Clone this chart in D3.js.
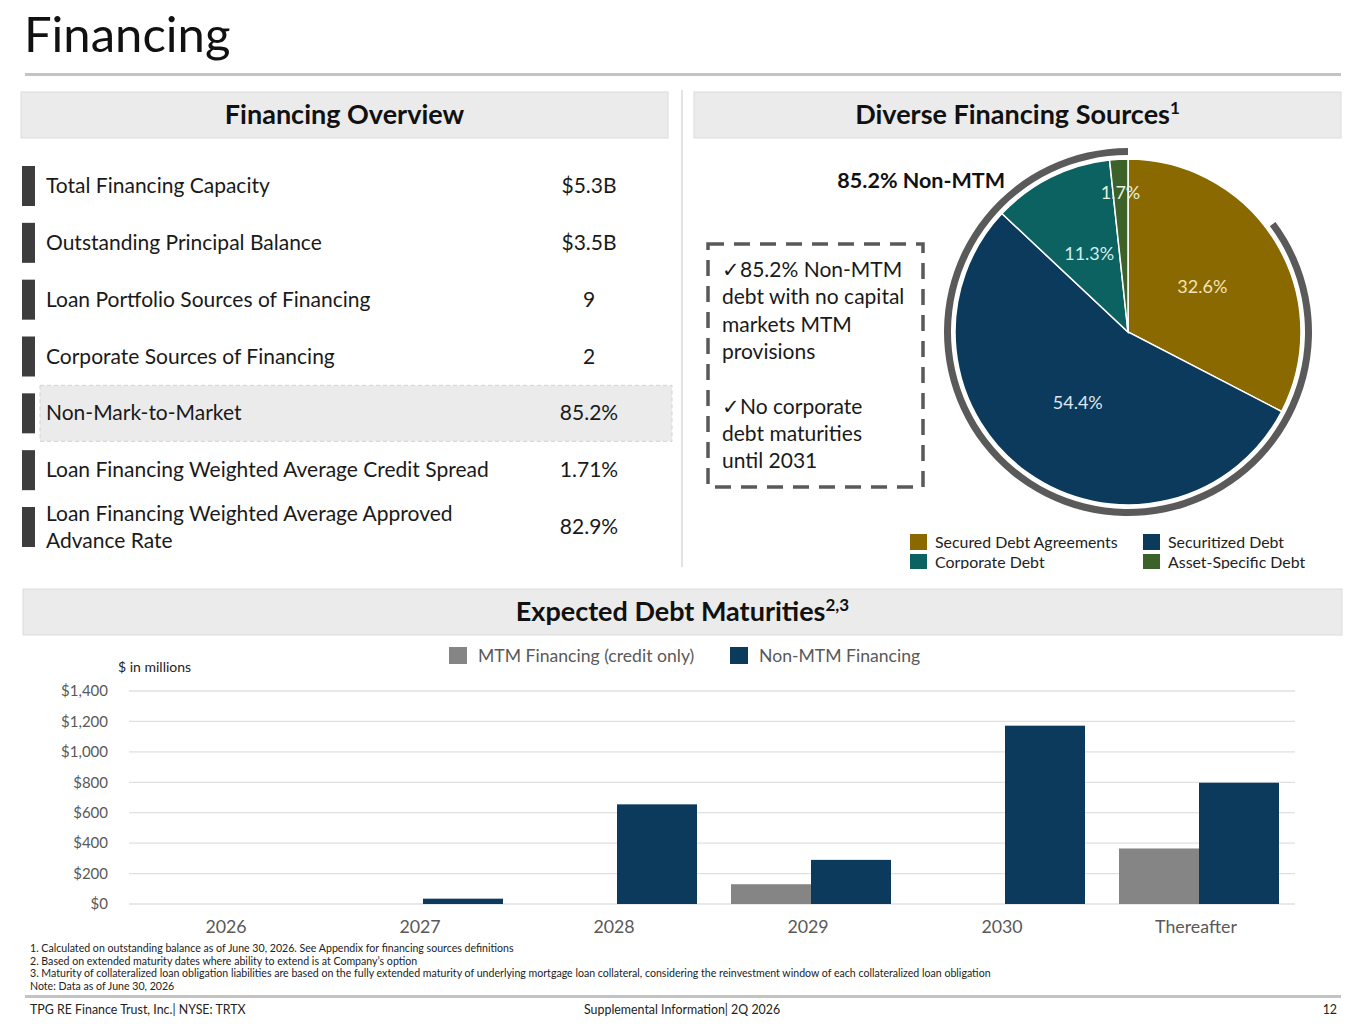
<!DOCTYPE html>
<html>
<head>
<meta charset="utf-8">
<script src="https://cdn.jsdelivr.net/npm/d3@7"></script>
<style>
  body { margin: 0; background: #fff; }
  svg { font-family: Lato, "Open Sans", sans-serif; display: block; }
</style>
</head>
<body>
<svg id="page" width="1365" height="1024"></svg>
<script>
// overview table
const overviewLabels = [
  ["Total Financing Capacity"],
  ["Outstanding Principal Balance"],
  ["Loan Portfolio Sources of Financing"],
  ["Corporate Sources of Financing"],
  ["Non-Mark-to-Market"],
  ["Loan Financing Weighted Average Credit Spread"],
  ["Loan Financing Weighted Average Approved", "Advance Rate"]
];
const overviewValues = ["$5.3B", "$3.5B", "9", "2", "85.2%", "1.71%", "82.9%"];
const highlightRow = 4;

// pie
const sourceNames = ["Secured Debt Agreements", "Securitized Debt", "Corporate Debt", "Asset-Specific Debt"];
const sourceShares = [32.6, 54.4, 11.3, 1.7];
const sourceColors = ["#8a6a00", "#0c3a5c", "#0b6260", "#3c6129"];
const labelColors = ["#f3e3b3", "#dbe6f0", "#cfeeed", "#e6f0dc"];
const nonMtmShare = 85.2;

const calloutLines = ["\u2713" + "85.2% Non-MTM", "debt with no capital", "markets MTM", "provisions", "", "\u2713" + "No corporate", "debt maturities", "until 2031"];

// bars
const years = ["2026", "2027", "2028", "2029", "2030", "Thereafter"];
const mtmFinancing = [0, 0, 0, 130, 0, 365];
const nonMtmFinancing = [0, 35, 655, 290, 1172, 797];
const seriesNames = ["MTM Financing (credit only)", "Non-MTM Financing"];
const seriesColors = ["#858585", "#0c3a5c"];
const yTicks = [0, 200, 400, 600, 800, 1000, 1200, 1400];

const footnotes = [
  "1. Calculated on outstanding balance as of June 30, 2026. See Appendix for financing sources definitions",
  "2. Based on extended maturity dates where ability to extend is at Company\u2019s option",
  "3. Maturity of collateralized loan obligation liabilities are based on the fully extended maturity of underlying mortgage loan collateral, considering the reinvestment window of each collateralized loan obligation",
  "Note: Data as of June 30, 2026"
];

const svg = d3.select("#page");

// title and rules
svg.append("text").attr("x", 24).attr("y", 52).attr("font-size", 49).attr("fill", "#111").text("Financing");
svg.append("rect").attr("x", 25).attr("y", 73).attr("width", 1316).attr("height", 3).attr("fill", "#c3c3c3");
svg.append("rect").attr("x", 681).attr("y", 90).attr("width", 2).attr("height", 477).attr("fill", "#e3e3e3");

function header(x, w, y, text, sup) {
  svg.append("rect").attr("x", x).attr("y", y).attr("width", w).attr("height", 46)
    .attr("fill", "#ebebeb").attr("stroke", "#dcdcdc");
  const t = svg.append("text").attr("x", x + w / 2).attr("y", y + 32).attr("text-anchor", "middle")
    .attr("font-size", 27).attr("font-weight", "bold").attr("fill", "#111").text(text);
  if (sup) t.append("tspan").attr("dy", -10).attr("font-size", 17).text(sup);
}
header(21, 647, 92, "Financing Overview");
header(694, 647, 92, "Diverse Financing Sources", "1");
header(23, 1319, 589, "Expected Debt Maturities", "2,3");

// overview rows
const rowY = d3.scalePoint().domain(d3.range(overviewLabels.length)).range([186, 527]);
svg.append("rect").attr("x", 40).attr("y", rowY(highlightRow) - 28).attr("width", 632).attr("height", 56)
  .attr("fill", "#ebebeb").attr("stroke", "#d2d2d2").attr("stroke-dasharray", "4,3");
const rows = svg.append("g").selectAll("g").data(overviewLabels).join("g")
  .attr("transform", (d, i) => `translate(0,${rowY(i)})`);
rows.append("rect").attr("x", 22).attr("y", -20).attr("width", 13).attr("height", 40).attr("fill", "#3d3d3d");
rows.append("text").attr("x", 46).attr("font-size", 21).attr("fill", "#1a1a1a")
  .each(function(d) {
    const t = d3.select(this);
    d.forEach((line, j) => {
      t.append("tspan").attr("x", 46).attr("y", (j - (d.length - 1) / 2) * 27 + 7).text(line);
    });
  });
rows.append("text").attr("x", 589).attr("y", 7).attr("text-anchor", "middle").attr("font-size", 21)
  .attr("fill", "#1a1a1a").text((d, i) => overviewValues[i]);

// callout box
svg.append("rect").attr("x", 708).attr("y", 244).attr("width", 215).attr("height", 243)
  .attr("fill", "none").attr("stroke", "#595959").attr("stroke-width", 3.5).attr("stroke-dasharray", "16,10");
svg.append("g").selectAll("text").data(calloutLines).join("text")
  .attr("x", 722).attr("y", (d, i) => 277 + i * 27.3).attr("font-size", 21).attr("fill", "#1a1a1a")
  .text(d => d);

// pie
const cx = 1128, cy = 332, r = 173;
const pieG = svg.append("g").attr("transform", `translate(${cx},${cy})`);
const pie = d3.pie().sort(null).value(d => d)(sourceShares);
const arc = d3.arc().innerRadius(0).outerRadius(r);
pieG.selectAll("path.slice").data(pie).join("path").attr("class", "slice")
  .attr("d", arc).attr("fill", (d, i) => sourceColors[i]).attr("stroke", "#fff").attr("stroke-width", 1.5);
const ringStart = (1 - nonMtmShare / 100) * 2 * Math.PI;
pieG.append("path")
  .attr("d", d3.arc().innerRadius(177).outerRadius(184).startAngle(ringStart).endAngle(2 * Math.PI)())
  .attr("fill", "#5a5a5a");
const labelArc = d3.arc().innerRadius(87).outerRadius(87);
const smallArc = d3.arc().innerRadius(140).outerRadius(140);
pieG.selectAll("text.pl").data(pie).join("text").attr("class", "pl")
  .attr("transform", d => `translate(${(d.value < 5 ? smallArc : labelArc).centroid(d)})`)
  .attr("text-anchor", "middle").attr("dy", "0.35em").attr("font-size", 18)
  .attr("fill", (d, i) => labelColors[i]).text(d => d3.format(".1f")(d.value) + "%");
svg.append("text").attr("x", 1005).attr("y", 188).attr("text-anchor", "end").attr("font-size", 21.5)
  .attr("font-weight", "bold").attr("fill", "#111").text(nonMtmShare + "% Non-MTM");

// pie legend (clipped at the bottom like the slide)
svg.append("clipPath").attr("id", "legClip").append("rect").attr("x", 890).attr("y", 525).attr("width", 460).attr("height", 44);
const pieLeg = svg.append("g").attr("clip-path", "url(#legClip)").selectAll("g").data(sourceNames).join("g")
  .attr("transform", (d, i) => `translate(${i % 2 ? 1143 : 910},${i < 2 ? 534 : 554})`);
pieLeg.append("rect").attr("width", 17).attr("height", 16).attr("fill", (d, i) => sourceColors[i]);
pieLeg.append("text").attr("x", 25).attr("y", 14).attr("font-size", 15.9).attr("fill", "#222").text(d => d);

// bar chart
const x0 = d3.scaleBand().domain(years).range([129, 1293]);
const x1 = d3.scaleBand().domain(seriesNames).range([20, x0.bandwidth() - 14]);
const y = d3.scaleLinear().domain([0, 1400]).range([904, 691]);

const grid = svg.append("g");
grid.selectAll("line").data(yTicks).join("line")
  .attr("x1", 129).attr("x2", 1295).attr("y1", d => y(d)).attr("y2", d => y(d))
  .attr("stroke", "#e0e0e0").attr("stroke-width", 1.3);

const yAxis = svg.append("g").attr("transform", "translate(118,0)")
  .call(d3.axisLeft(y).tickValues(yTicks).tickSize(0).tickPadding(10).tickFormat(d => "$" + d3.format(",")(d)));
yAxis.select(".domain").remove();
yAxis.selectAll("text").attr("font-size", 15).attr("fill", "#595959").attr("font-family", "Lato, sans-serif");

const xAxis = svg.append("g").attr("transform", "translate(0,904)")
  .call(d3.axisBottom(x0).tickSize(0).tickPadding(16));
xAxis.select(".domain").remove();
xAxis.selectAll("text").attr("font-size", 17.8).attr("fill", "#595959").attr("font-family", "Lato, sans-serif");

const barData = years.map((yr, i) => ({ year: yr, values: [mtmFinancing[i], nonMtmFinancing[i]] }));
svg.append("g").selectAll("g").data(barData).join("g")
  .attr("transform", d => `translate(${x0(d.year)},0)`)
  .selectAll("rect").data(d => d.values.map((v, k) => ({ key: seriesNames[k], value: v, k })))
  .join("rect")
  .attr("x", d => x1(d.key)).attr("width", x1.bandwidth())
  .attr("y", d => y(d.value)).attr("height", d => y(0) - y(d.value))
  .attr("fill", d => seriesColors[d.k]);

svg.append("text").attr("x", 118).attr("y", 672).attr("font-size", 14).attr("fill", "#222").text("$ in millions");

const barLeg = svg.append("g").selectAll("g").data(seriesNames).join("g")
  .attr("transform", (d, i) => `translate(${i ? 730 : 449},647)`);
barLeg.append("rect").attr("width", 18).attr("height", 17).attr("fill", (d, i) => seriesColors[i]);
barLeg.append("text").attr("x", 29).attr("y", 15).attr("font-size", 17.6).attr("fill", "#595959").text(d => d);

// footnotes & footer
svg.append("g").selectAll("text").data(footnotes).join("text")
  .attr("x", 30).attr("y", (d, i) => 952 + i * 12.7).attr("font-size", 10.6).attr("fill", "#222").text(d => d);
svg.append("rect").attr("x", 25).attr("y", 995).attr("width", 1316).attr("height", 3).attr("fill", "#c3c3c3");
svg.append("text").attr("x", 30).attr("y", 1014).attr("font-size", 12.4).attr("fill", "#222").text("TPG RE Finance Trust, Inc.| NYSE: TRTX");
svg.append("text").attr("x", 584).attr("y", 1014).attr("font-size", 12.4).attr("fill", "#222").text("Supplemental Information| 2Q 2026");
svg.append("text").attr("x", 1337).attr("y", 1014).attr("text-anchor", "end").attr("font-size", 12.4).attr("fill", "#222").text("12");
</script>
</body>
</html>
